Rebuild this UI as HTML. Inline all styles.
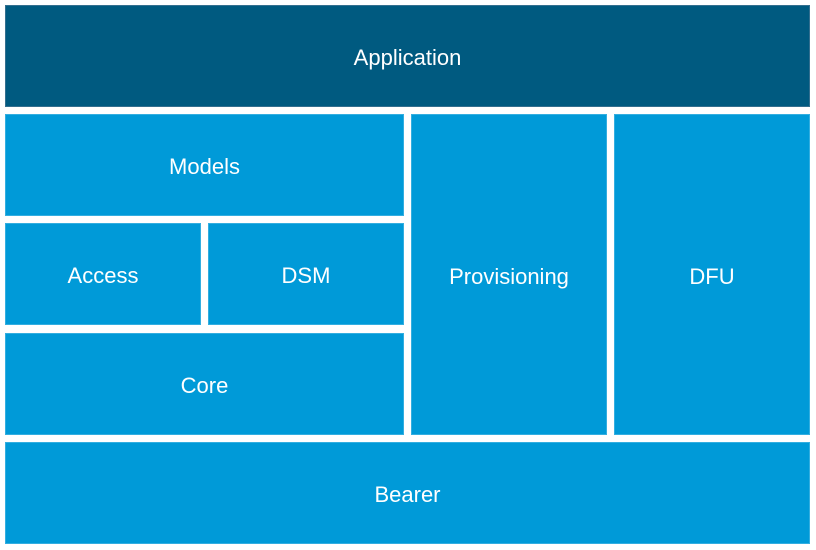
<!DOCTYPE html>
<html><head><style>
body{margin:0;width:816px;height:550px;background:#fff;position:relative;overflow:hidden;font-family:"Liberation Sans",sans-serif;}
.b{position:absolute;background:#009ad8;color:#fff;font-size:22px;display:flex;align-items:center;justify-content:center;box-sizing:border-box;border:1px solid #33aee0;padding-top:4px;}
.d{background:#005a80;border-color:#336f8f;}
</style></head><body>
<div class="b d" style="left:5px;top:5px;width:805px;height:102px;">Application</div>
<div class="b" style="left:5px;top:114px;width:399px;height:102px;">Models</div>
<div class="b" style="left:5px;top:223px;width:196px;height:102px;">Access</div>
<div class="b" style="left:208px;top:223px;width:196px;height:102px;">DSM</div>
<div class="b" style="left:5px;top:333px;width:399px;height:102px;">Core</div>
<div class="b" style="left:411px;top:114px;width:196px;height:321px;">Provisioning</div>
<div class="b" style="left:614px;top:114px;width:196px;height:321px;">DFU</div>
<div class="b" style="left:5px;top:442px;width:805px;height:102px;">Bearer</div>
</body></html>
